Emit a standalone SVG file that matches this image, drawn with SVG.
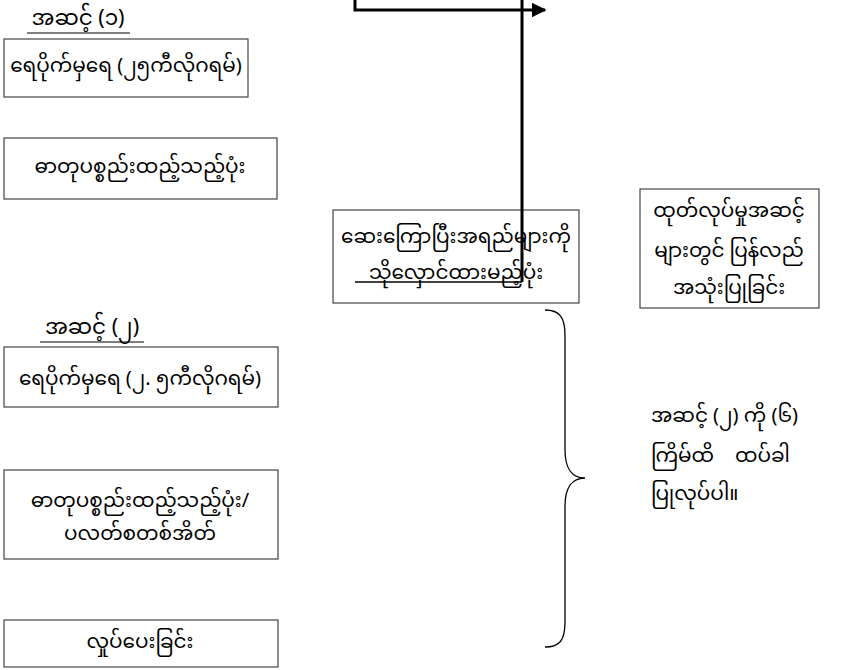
<svg xmlns="http://www.w3.org/2000/svg" width="845" height="670" viewBox="0 0 845 670">
<style>
text{font-family:"Noto Sans Myanmar","Noto Sans","DejaVu Sans",sans-serif;font-size:20px;fill:#000;text-anchor:middle;dominant-baseline:central}
.h{font-size:21.5px}
.box{fill:#fff;stroke:#444;stroke-width:1.2}
.ln{fill:none;stroke:#000}
</style>
<defs>
<marker id="ah" viewBox="0 0 10 10" refX="9" refY="5" markerWidth="5" markerHeight="5" orient="auto" markerUnits="strokeWidth"><path d="M0,0L10,5L0,10z" fill="#000"/></marker>
</defs>
<rect width="845" height="670" fill="#fff"/>
<g id="h1"><text class="h" x="78" y="20">အဆင့် (၁)</text><line class="ln" x1="27" y1="33" x2="130" y2="33"/></g>
<g id="n1"><rect class="box" x="4" y="39" width="244" height="58"/><text x="126" y="67">ရေပိုက်မှရေ (၂၅ကီလိုဂရမ်)</text></g>
<g id="n2"><rect class="box" x="4" y="138" width="273" height="61"/><text x="140" y="168">ဓာတုပစ္စည်းထည့်သည့်ပုံး</text></g>
<g id="n3"><rect class="box" x="333" y="210" width="246" height="93"/><text x="456" y="238">ဆေးကြောပြီးအရည်များကို</text><text x="456" y="274">သိုလှောင်ထားမည့်ပုံး</text></g>
<g id="n4"><rect class="box" x="640" y="189" width="179" height="119"/><text x="729" y="212">ထုတ်လုပ်မှုအဆင့်</text><text x="729" y="252">များတွင် ပြန်လည်</text><text x="729" y="289">အသုံးပြုခြင်း</text></g>
<g id="h2"><text class="h" x="92" y="329">အဆင့် (၂)</text><line class="ln" x1="40" y1="342" x2="144" y2="342"/></g>
<g id="n5"><rect class="box" x="4" y="347" width="274" height="60"/><text x="140" y="380">ရေပိုက်မှရေ (၂. ၅ကီလိုဂရမ်)</text></g>
<g id="n6"><rect class="box" x="4" y="470" width="274" height="89"/><text x="140" y="502">ဓာတုပစ္စည်းထည့်သည့်ပုံး/</text><text x="140" y="535">ပလတ်စတစ်အိတ်</text></g>
<g id="n7"><rect class="box" x="4" y="620" width="274" height="47"/><text x="140" y="643">လှုပ်ပေးခြင်း</text></g>
<g id="note"><text x="651" y="417" style="text-anchor:start">အဆင့် (၂) ကို (၆)</text><text x="651" y="457" style="text-anchor:start;white-space:pre">ကြိမ်ထိ    ထပ်ခါ</text><text x="651" y="495" style="text-anchor:start">ပြုလုပ်ပါ။</text></g>
<g id="connectors">
<path class="ln" stroke-width="3" d="M355,0V10H545" marker-end="url(#ah)"/>
<path class="ln" stroke-width="3" d="M522,0V282"/>
<path class="ln" stroke-width="1.3" d="M355,282H522"/>
<path class="ln" stroke-width="1.3" d="M545,310C560,310 565,318 565,335V450C565,468 572,478 585,478C572,478 565,488 565,506V622C565,640 560,647 545,647"/>
</g>
</svg>
